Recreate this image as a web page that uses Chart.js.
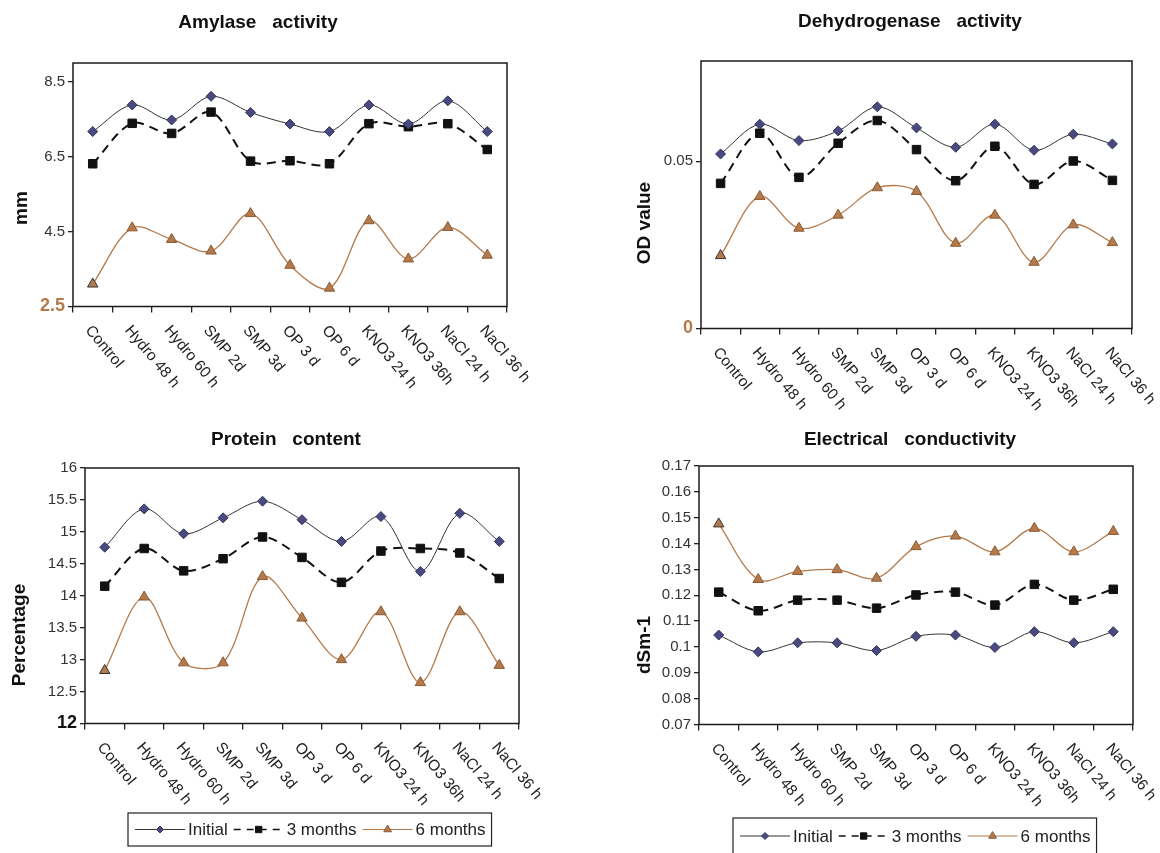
<!DOCTYPE html>
<html>
<head>
<meta charset="utf-8">
<script src="https://cdn.jsdelivr.net/npm/chart.js@4.4.1/dist/chart.umd.min.js"></script>
<style>
  body { margin: 0; background: #fff; width: 1160px; height: 853px; overflow: hidden; position: relative; }
  canvas { position: absolute; }
</style>
</head>
<body>
<canvas id="amylase" width="580" height="420" style="left:0;top:0"></canvas>
<canvas id="dehyd" width="580" height="420" style="left:580px;top:0"></canvas>
<canvas id="protein" width="580" height="433" style="left:0;top:420px"></canvas>
<canvas id="ec" width="580" height="433" style="left:580px;top:420px"></canvas>
<script>
const treatments = ['Control', 'Hydro 48 h', 'Hydro 60 h', 'SMP 2d', 'SMP 3d', 'OP 3 d', 'OP 6 d', 'KNO3 24 h', 'KNO3 36h', 'NaCl 24 h', 'NaCl 36 h'];
const seriesNames = ['Initial', '3 months', '6 months'];

const amylaseInitial = [7.17, 7.88, 7.48, 8.11, 7.68, 7.37, 7.17, 7.88, 7.37, 7.99, 7.17];
const amylase3m = [6.31, 7.39, 7.12, 7.69, 6.38, 6.39, 6.31, 7.38, 7.30, 7.38, 6.69];
const amylase6m = [3.10, 4.60, 4.29, 3.98, 4.98, 3.60, 2.99, 4.79, 3.77, 4.61, 3.87];
const amylaseTicks = [2.5, 4.5, 6.5, 8.5];
const amylaseTickLabels = ['2.5', '4.5', '6.5', '8.5'];

const dehydInitial = [0.0522, 0.0611, 0.0562, 0.0591, 0.0663, 0.0600, 0.0542, 0.0611, 0.0533, 0.0581, 0.0552];
const dehyd3m = [0.0434, 0.0584, 0.0452, 0.0554, 0.0622, 0.0535, 0.0442, 0.0545, 0.0431, 0.0501, 0.0443];
const dehyd6m = [0.0218, 0.0395, 0.0300, 0.0339, 0.0421, 0.0410, 0.0255, 0.0339, 0.0198, 0.0310, 0.0257];
const dehydTicks = [0, 0.05];
const dehydTickLabels = ['0', '0.05'];

const proteinInitial = [14.76, 15.36, 14.97, 15.22, 15.48, 15.19, 14.85, 15.24, 14.38, 15.29, 14.85];
const protein3m = [14.15, 14.74, 14.39, 14.58, 14.92, 14.60, 14.21, 14.70, 14.74, 14.67, 14.27];
const protein6m = [12.83, 13.98, 12.95, 12.95, 14.30, 13.65, 13.00, 13.75, 12.64, 13.75, 12.91];
const proteinTicks = [12, 12.5, 13, 13.5, 14, 14.5, 15, 15.5, 16];
const proteinTickLabels = ['12', '12.5', '13', '13.5', '14', '14.5', '15', '15.5', '16'];

const ecInitial = [0.1046, 0.0981, 0.1016, 0.1016, 0.0986, 0.1041, 0.1046, 0.0998, 0.1059, 0.1016, 0.1059];
const ec3m = [0.1212, 0.1140, 0.1181, 0.1181, 0.1150, 0.1201, 0.1212, 0.1162, 0.1242, 0.1181, 0.1223];
const ec6m = [0.1476, 0.1261, 0.1292, 0.1299, 0.1266, 0.1388, 0.1429, 0.1368, 0.1459, 0.1368, 0.1447];
const ecTicks = [0.07, 0.08, 0.09, 0.10, 0.11, 0.12, 0.13, 0.14, 0.15, 0.16, 0.17];
const ecTickLabels = ['0.07', '0.08', '0.09', '0.1', '0.11', '0.12', '0.13', '0.14', '0.15', '0.16', '0.17'];

const BROWN = '#b47a4b';
const SANS = '"Liberation Sans", Arial, sans-serif';

const styles = [
  { pointStyle: 'rectRot', radius: 5, fill: '#4a4a80', border: '#33335a', line: '#333', width: 1, dash: [] },
  { pointStyle: 'rect', radius: 6, fill: '#111', border: '#111', line: '#111', width: 2, dash: [9, 6] },
  { pointStyle: 'triangle', radius: 6, fill: BROWN, border: '#8a5a34', line: BROWN, width: 1.3, dash: [] }
];

// legend box under the bottom charts
function drawLegend(ctx, x, y, h) {
  ctx.save();
  ctx.font = '17px ' + SANS;
  ctx.textBaseline = 'middle';
  const my = y + h / 2;
  let cx = x + 7;
  styles.forEach(function(s, i) {
    ctx.strokeStyle = s.line;
    ctx.lineWidth = i === 1 ? 1.5 : 1.2;
    ctx.setLineDash(i === 1 ? [7, 6] : []);
    ctx.beginPath();
    ctx.moveTo(cx, my);
    ctx.lineTo(cx + 50, my);
    ctx.stroke();
    ctx.setLineDash([]);
    ctx.fillStyle = s.fill;
    ctx.strokeStyle = s.border;
    ctx.lineWidth = 1;
    Chart.helpers.drawPoint(ctx, { pointStyle: s.pointStyle, radius: s.radius - 1.5, rotation: 0, borderWidth: 1 }, cx + 25, my);
    ctx.fillStyle = '#222';
    ctx.fillText(seriesNames[i], cx + 53, my + 1);
    cx += 53 + ctx.measureText(seriesNames[i]).width + 6;
  });
  ctx.strokeStyle = '#222';
  ctx.lineWidth = 1.2;
  ctx.strokeRect(x, y, cx - x, h);
  ctx.restore();
}

function makeChart(id, cfg) {
  const canvas = document.getElementById(id);
  const W = canvas.width, H = canvas.height;
  const p = cfg.plot;
  const sets = [cfg.initial, cfg.m3, cfg.m6].map(function(vals, i) {
    const s = styles[i];
    return {
      label: seriesNames[i],
      data: vals,
      borderColor: s.line,
      borderWidth: s.width,
      borderDash: s.dash,
      pointStyle: s.pointStyle,
      pointRadius: s.radius,
      pointBackgroundColor: s.fill,
      pointBorderColor: vals.map(function(v, k) { return (k === 0 && i === 2) ? '#333' : s.border; }),
      pointBorderWidth: 1,
      tension: 0.33,
      fill: false,
      clip: false
    };
  });

  const decor = {
    id: 'decor',
    afterDraw: function(chart) {
      const ctx = chart.ctx;
      const a = chart.chartArea;
      ctx.save();
      ctx.strokeStyle = '#1a1a1a';
      ctx.lineWidth = 1.5;
      ctx.strokeRect(a.left, a.top, a.right - a.left, a.bottom - a.top);

      ctx.fillStyle = '#111';
      ctx.font = 'bold 19px ' + SANS;
      ctx.textAlign = 'center';
      ctx.textBaseline = 'middle';
      ctx.fillText(cfg.title, cfg.titlePos[0], cfg.titlePos[1]);

      ctx.save();
      ctx.translate(cfg.yTitlePos[0], cfg.yTitlePos[1]);
      ctx.rotate(-Math.PI / 2);
      ctx.fillText(cfg.yTitle, 0, 0);
      ctx.restore();

      const xs = chart.scales.x;
      ctx.font = '15.5px ' + SANS;
      ctx.fillStyle = '#222';
      ctx.textAlign = 'left';
      ctx.textBaseline = 'alphabetic';
      treatments.forEach(function(lbl, i) {
        const px = xs.getPixelForTick(i);
        ctx.save();
        ctx.translate(px - 8, a.bottom + 24);
        ctx.rotate(50 * Math.PI / 180);
        ctx.fillText(lbl, 0, 0);
        ctx.restore();
      });
      ctx.restore();

      if (cfg.legend) drawLegend(ctx, cfg.legend[0], cfg.legend[1], cfg.legend[2]);
    }
  };

  return new Chart(canvas, {
    type: 'line',
    data: { labels: treatments, datasets: sets },
    options: {
      responsive: false,
      animation: false,
      devicePixelRatio: 1,
      layout: { padding: { left: 0, top: p.t, right: W - p.r, bottom: 0 } },
      plugins: { legend: { display: false }, title: { display: false }, tooltip: { enabled: false } },
      scales: {
        x: {
          type: 'category',
          offset: true,
          border: { display: false },
          grid: { offset: true, drawOnChartArea: false, drawTicks: true, tickLength: 6, color: '#222', lineWidth: 1.3 },
          ticks: { display: false },
          afterFit: function(scale) { scale.height = H - p.b; }
        },
        y: {
          min: cfg.min,
          max: cfg.max,
          border: { display: false },
          grid: { drawOnChartArea: false, drawTicks: true, tickLength: 5, color: '#222', lineWidth: 1.3 },
          afterBuildTicks: function(scale) {
            scale.ticks = cfg.ticks.map(function(v) { return { value: v }; });
          },
          ticks: {
            padding: 3,
            callback: function(v, i) { return cfg.tickLabels[i]; },
            color: function(c) { return c.index === 0 ? cfg.firstColor : '#333'; },
            font: function(c) {
              return c.index === 0 && cfg.firstBold
                ? { family: SANS, size: 18, weight: 'bold' }
                : { family: SANS, size: 15 };
            }
          },
          afterFit: function(scale) { scale.width = p.l; }
        }
      }
    },
    plugins: [decor]
  });
}

makeChart('amylase', {
  title: 'Amylase   activity', titlePos: [258, 23],
  yTitle: 'mm', yTitlePos: [22, 208],
  plot: { l: 73, r: 507, t: 63, b: 306.5 },
  min: 2.5, max: 9, ticks: amylaseTicks, tickLabels: amylaseTickLabels,
  firstColor: BROWN, firstBold: true,
  initial: amylaseInitial, m3: amylase3m, m6: amylase6m
});

makeChart('dehyd', {
  title: 'Dehydrogenase   activity', titlePos: [330, 22],
  yTitle: 'OD value', yTitlePos: [65, 223],
  plot: { l: 121, r: 552, t: 61, b: 328.5 },
  min: 0, max: 0.08, ticks: dehydTicks, tickLabels: dehydTickLabels,
  firstColor: BROWN, firstBold: true,
  initial: dehydInitial, m3: dehyd3m, m6: dehyd6m
});

makeChart('protein', {
  title: 'Protein   content', titlePos: [286, 20],
  yTitle: 'Percentage', yTitlePos: [20, 215],
  plot: { l: 85, r: 519, t: 48, b: 303.5 },
  min: 12, max: 16, ticks: proteinTicks, tickLabels: proteinTickLabels,
  firstColor: '#111', firstBold: true,
  initial: proteinInitial, m3: protein3m, m6: protein6m,
  legend: [128, 393, 33]
});

makeChart('ec', {
  title: 'Electrical   conductivity', titlePos: [330, 20],
  yTitle: 'dSm-1', yTitlePos: [65, 225],
  plot: { l: 119, r: 553, t: 46, b: 304.5 },
  min: 0.07, max: 0.17, ticks: ecTicks, tickLabels: ecTickLabels,
  firstColor: '#333', firstBold: false,
  initial: ecInitial, m3: ec3m, m6: ec6m,
  legend: [153, 398, 36]
});
</script>
</body>
</html>
